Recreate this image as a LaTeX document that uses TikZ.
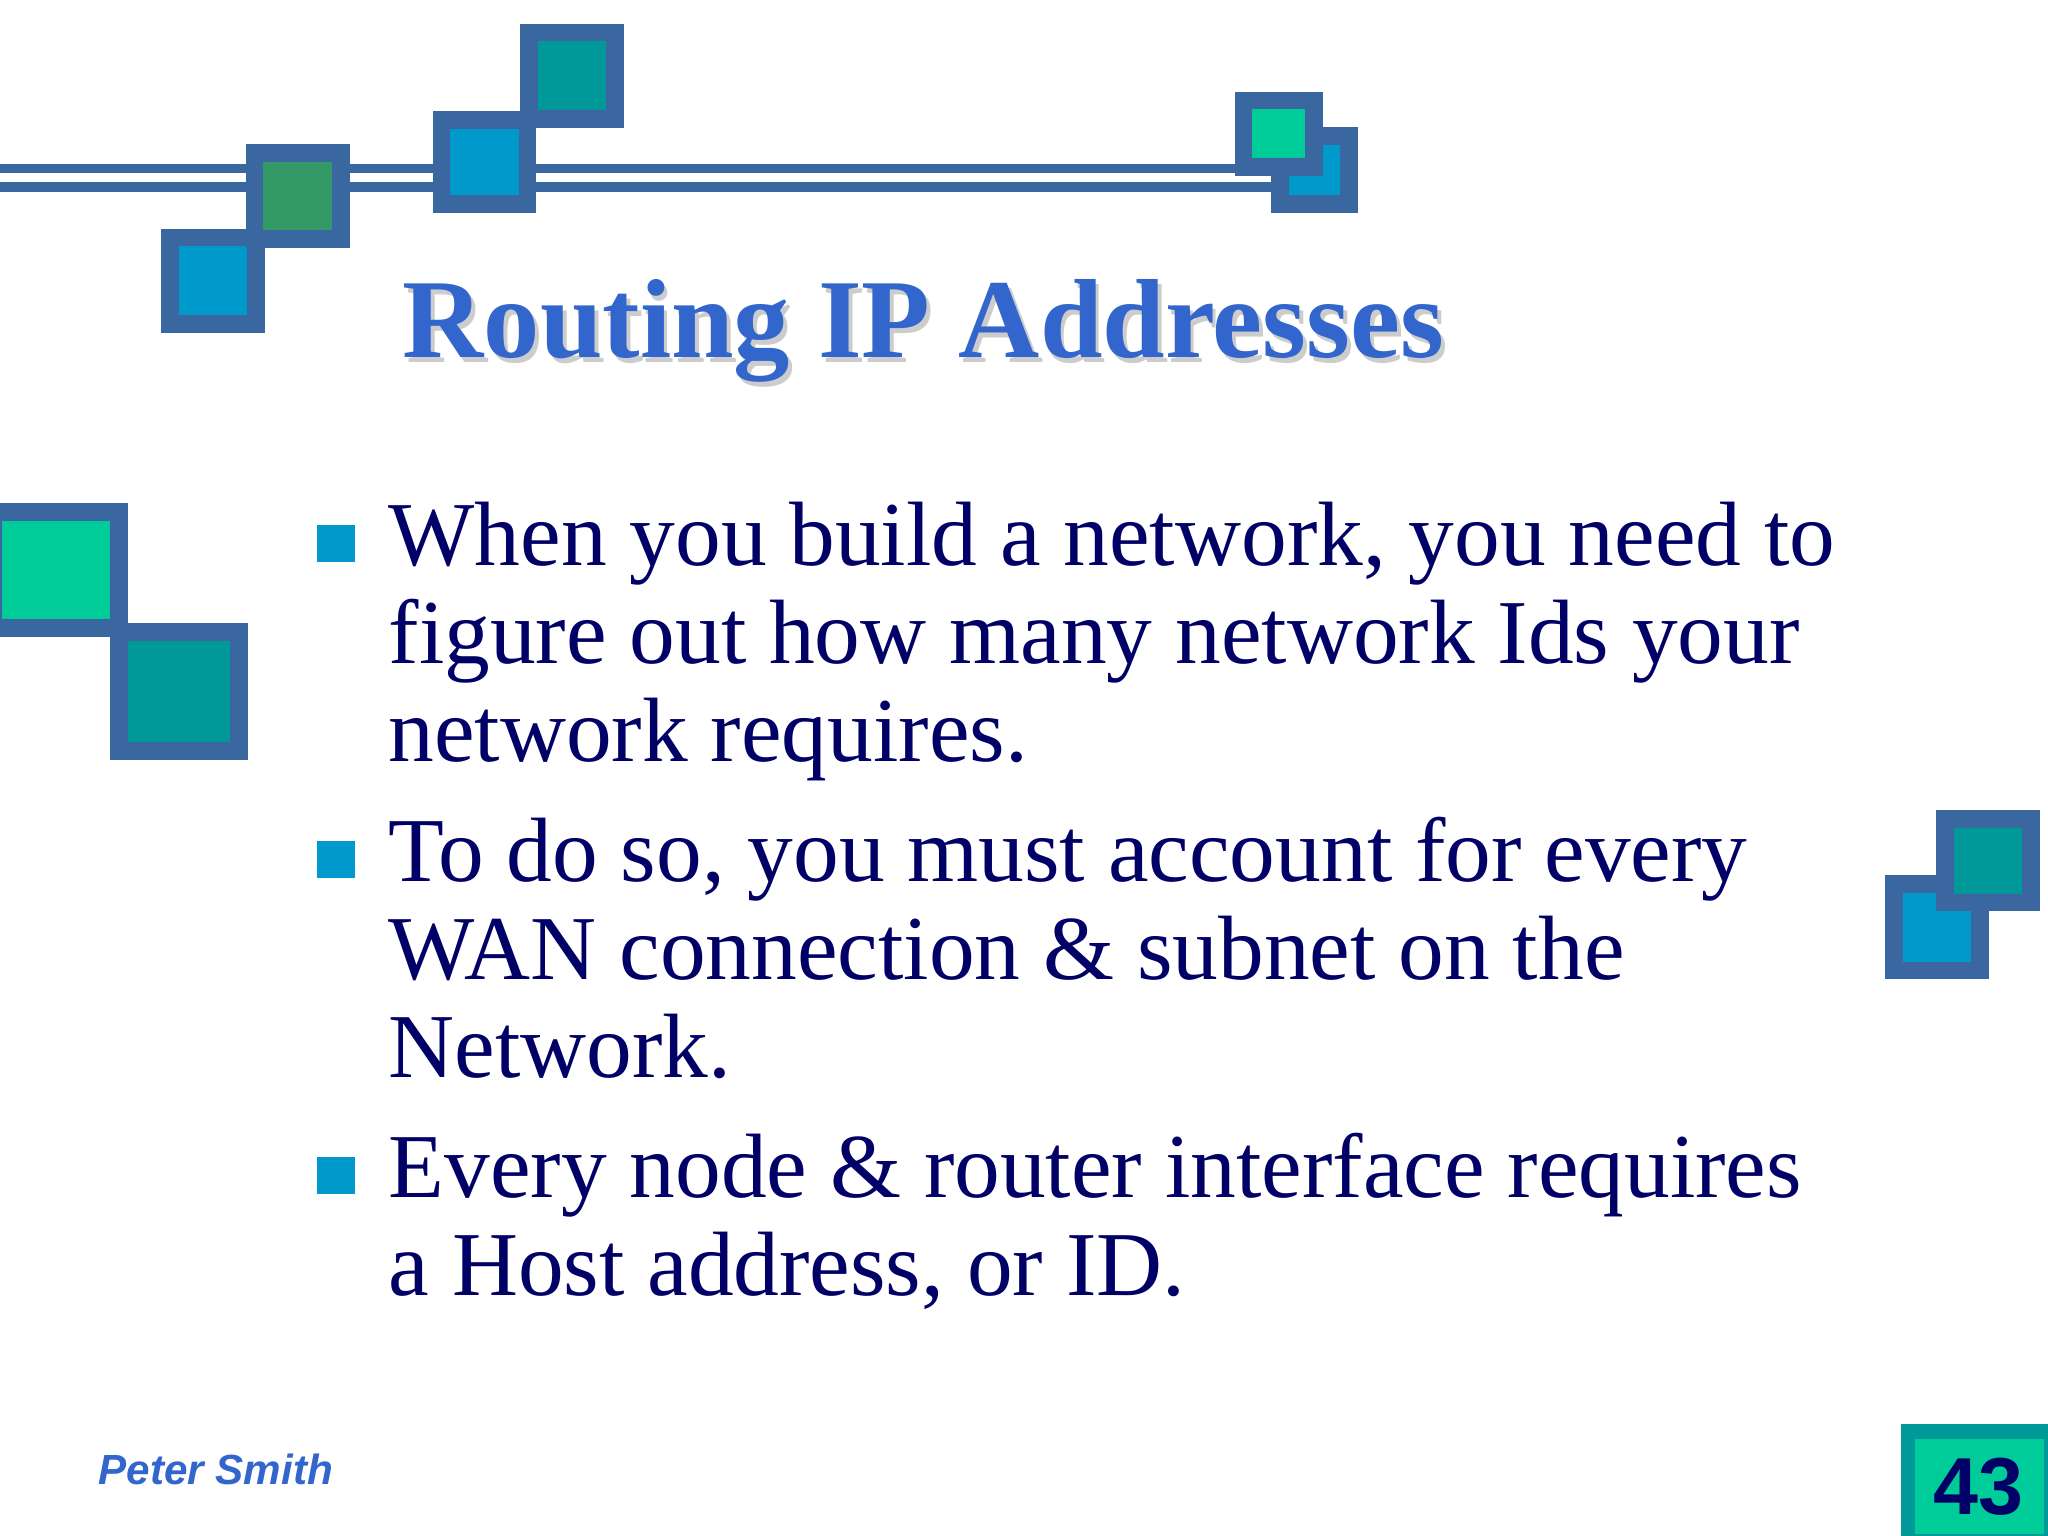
\documentclass[tikz,border=0pt]{standalone}
\usepackage{fontspec}
\setmainfont{Liberation Serif}
\newfontfamily\sansf{Liberation Sans}
\definecolor{edge}{HTML}{3A67A0}
\definecolor{cblue}{HTML}{0099CC}
\definecolor{cgreen}{HTML}{339966}
\definecolor{cteal}{HTML}{009999}
\definecolor{cmint}{HTML}{00CC99}
\definecolor{navy}{HTML}{000066}
\definecolor{ttl}{HTML}{3366CC}
\begin{document}
\begin{tikzpicture}[x=0.013061cm,y=-0.013061cm,
  sq/.style={draw=edge,line width=5pt},
  line/.style={anchor=base west,text=navy,font=\fontsize{26}{30}\selectfont,inner sep=0pt},
  bul/.style={fill=cblue}]
\fill[white] (0,0) rectangle (1568,1176);
\useasboundingbox (0,0) rectangle (1568,1176);
% rail
\draw[edge,line width=8pt] (0,136) -- (990,136);
\draw[white,line width=2.5pt] (0,136) -- (990,136);
\filldraw[sq,fill=cblue] (130,182) rectangle (196,248);
\filldraw[sq,fill=cgreen] (195,117) rectangle (261,183);
\filldraw[sq,fill=cblue] (338,92) rectangle (404,156);
\filldraw[sq,fill=cteal] (405,25) rectangle (471,91);
\filldraw[sq,fill=cblue] (980,104) rectangle (1033,156);
\filldraw[sq,fill=cmint] (952,77) rectangle (1006,128);
\filldraw[sq,fill=cmint] (-5,392) rectangle (91,481);
\filldraw[sq,fill=cteal] (91,484) rectangle (183,575);
\filldraw[sq,fill=cblue] (1450,677) rectangle (1516,743);
\filldraw[sq,fill=cteal] (1489,627) rectangle (1555,691);
% title
\node[text=gray!40,font=\bfseries\fontsize{32}{36}\selectfont] at (710,257) {Routing IP Addresses};
\node (title) [text=ttl,font=\bfseries\fontsize{32}{36}\selectfont] at (707,253) {Routing IP Addresses};
% bullets
\fill[bul] (243,402) rectangle (272,430) node[coordinate] (b1) {};
\fill[bul] (243,644) rectangle (272,672) node[coordinate] (b2) {};
\fill[bul] (243,886) rectangle (272,914) node[coordinate] (b3) {};
\node[line] (l1) at (297,433) {When you build a network, you need to};
\node[line] (l2) at (297,508) {figure out how many network Ids your};
\node[line] (l3) at (297,583) {network requires.};
\node[line] (l4) at (297,675) {To do so, you must account for every};
\node[line] (l5) at (297,750) {WAN connection \& subnet on the};
\node[line] (l6) at (297,825) {Network.};
\node[line] (l7) at (297,917) {Every node \& router interface requires};
\node[line] (l8) at (297,992) {a Host address, or ID.};
% footer
\node (auth) [anchor=west,text=ttl,font=\sansf\bfseries\itshape\fontsize{12}{14}\selectfont] at (66,1125) {Peter Smith};
\filldraw[draw=cteal,line width=4pt,fill=cmint] (1461,1096) rectangle (1570,1180);
\node (pg) [text=navy,font=\sansf\bfseries\fontsize{23}{24}\selectfont] at (1515,1138) {43};
\end{tikzpicture}
\end{document}
